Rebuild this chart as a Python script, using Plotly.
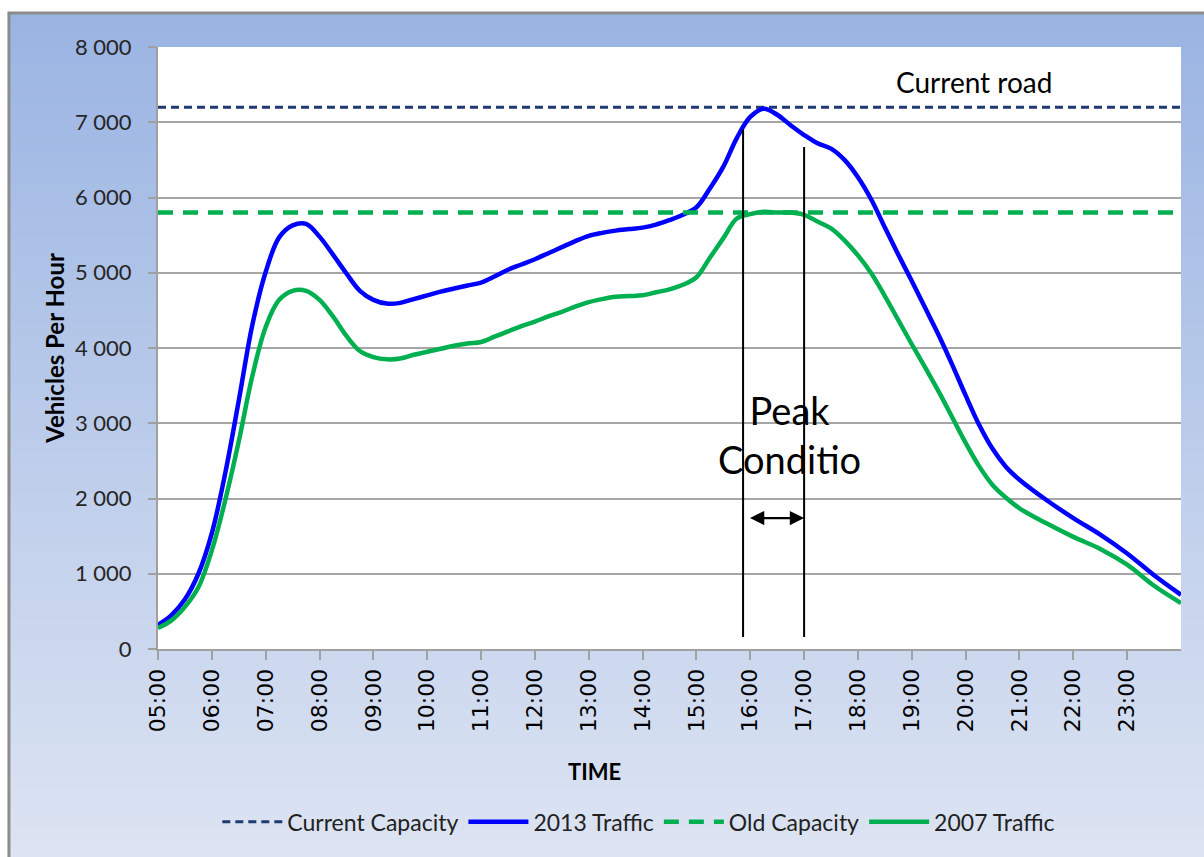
import base64
import struct
import zlib

import plotly.graph_objects as go

# ---------------- data ----------------
times = [f"{h:02d}:{m:02d}" for h in range(5, 21) for m in (0, 15, 30, 45)] + [
    "21:00", "21:30", "22:00", "22:30", "23:00", "23:30", "24:00"]

traffic_2013 = [
    320, 450, 660, 1000,
    1540, 2340, 3300, 4300,
    5010, 5470, 5630, 5650,
    5480, 5240, 4990, 4760,
    4640, 4590, 4600, 4650,
    4700, 4750, 4790, 4830,
    4870, 4950, 5040, 5110,
    5180, 5260, 5340, 5420,
    5490, 5530, 5560, 5580,
    5600, 5640, 5700, 5770,
    5870, 6120, 6410, 6790,
    7070, 7180, 7100, 6960,
    6830, 6720, 6650, 6500,
    6270, 5970, 5600, 5240,
    4890, 4530, 4170, 3780,
    3370, 2980, 2660, 2420,
    2250, 1980, 1740, 1520, 1270, 980, 720,
]

traffic_2007 = [
    280, 380, 560, 820,
    1310, 1980, 2760, 3620,
    4280, 4640, 4760, 4760,
    4640, 4420, 4160, 3960,
    3880, 3850, 3860, 3910,
    3950, 3990, 4030, 4060,
    4080, 4150, 4220, 4290,
    4350, 4420, 4480, 4550,
    4610, 4650, 4680, 4690,
    4700, 4740, 4780, 4840,
    4940, 5200, 5460, 5720,
    5780, 5810, 5800, 5800,
    5770, 5680, 5590, 5430,
    5230, 4990, 4690, 4370,
    4050, 3740, 3420, 3080,
    2740, 2430, 2180, 2010,
    1870, 1670, 1490, 1330, 1120, 840, 610,
]

current_capacity = 7200
old_capacity = 5800

tick_hours = list(range(5, 24))
tick_labels = [f"{h:02d}:00" for h in tick_hours]

# peak-condition markers: (time, top value)
peak_lines = [("15:52", 6900), ("17:00", 6670)]
peak_line_bottom = 160
peak_arrow = ("15:58", "17:00", 1740)


def to_hours(t):
    h, m = t.split(":")
    return int(h) + int(m) / 60.0


x = [to_hours(t) for t in times]

# ---------------- background gradient image ----------------
def gradient_png(top, bottom, n=128):
    rows = b""
    for i in range(n):
        f = i / (n - 1)
        c = bytes(int(round(top[k] + (bottom[k] - top[k]) * f)) for k in range(3))
        rows += b"\x00" + c
    def chunk(tag, data):
        return struct.pack(">I", len(data)) + tag + data + struct.pack(">I", zlib.crc32(tag + data) & 0xFFFFFFFF)
    png = b"\x89PNG\r\n\x1a\n"
    png += chunk(b"IHDR", struct.pack(">IIBBBBB", 1, n, 8, 2, 0, 0, 0))
    png += chunk(b"IDAT", zlib.compress(rows))
    png += chunk(b"IEND", b"")
    return "data:image/png;base64," + base64.b64encode(png).decode()


bg_src = gradient_png((154, 180, 226), (222, 229, 243))

# ---------------- figure ----------------
fig = go.Figure()

fig.add_trace(go.Scatter(
    x=[x[0], x[-1]], y=[current_capacity, current_capacity], mode="lines",
    name="Current Capacity",
    line=dict(color="#1F3A73", width=3, dash="8px,5px"),
))
fig.add_trace(go.Scatter(
    x=x, y=traffic_2013, mode="lines", name="2013 Traffic",
    line=dict(color="#0000FF", width=4.5, shape="spline", smoothing=1),
))
fig.add_trace(go.Scatter(
    x=[x[0], x[-1]], y=[old_capacity, old_capacity], mode="lines",
    name="Old Capacity",
    line=dict(color="#00B050", width=4.5, dash="15px,10px"),
))
fig.add_trace(go.Scatter(
    x=x, y=traffic_2007, mode="lines", name="2007 Traffic",
    line=dict(color="#00B050", width=4.5, shape="spline", smoothing=1),
))

shapes = [
    # white plot area over the gradient background
    dict(type="rect", xref="paper", yref="paper", x0=0, x1=1, y0=0, y1=1,
         line=dict(width=0), fillcolor="white", layer="below"),
]
for t, top in peak_lines:
    xv = to_hours(t)
    shapes.append(dict(type="line", xref="x", yref="y", x0=xv, x1=xv,
                       y0=peak_line_bottom, y1=top,
                       line=dict(color="black", width=2)))
# outer border
shapes.append(dict(type="rect", xref="paper", yref="paper",
                   x0=-0.1457, x1=1.04, y0=-0.37, y1=1.0565,
                   line=dict(color="#8C8C8C", width=3), fillcolor="rgba(0,0,0,0)",
                   layer="above"))

annotations = [
    dict(x=20.15, y=7540, xref="x", yref="y", text="Current road", showarrow=False,
         font=dict(family="Lato", size=28, color="black")),
    dict(x=16.72, y=2845, xref="x", yref="y", text="Peak<br>Conditio", showarrow=False,
         font=dict(family="Lato", size=38, color="black")),
    dict(x=to_hours(peak_arrow[1]), y=peak_arrow[2], ax=to_hours(peak_arrow[0]), ay=peak_arrow[2],
         xref="x", yref="y", axref="x", ayref="y", text="", showarrow=True,
         arrowhead=2, startarrowhead=2, arrowside="end+start", arrowsize=1.3,
         startarrowsize=1.3, arrowwidth=2.2, arrowcolor="black", standoff=0, startstandoff=0),
    # x-axis title (sits left of the plot centre in the original)
    dict(x=0.427, y=-0.204, xref="paper", yref="paper", text="<b>TIME</b>", showarrow=False,
         xanchor="center", yanchor="middle",
         font=dict(family="Lato", size=22, color="black")),
]

fig.update_layout(
    width=1204, height=857, autosize=False,
    margin=dict(l=158, r=23, t=47, b=208),
    paper_bgcolor="white",
    plot_bgcolor="white",
    separators=", ",
    font=dict(family="Lato", color="#222222"),
    shapes=shapes,
    annotations=annotations,
    images=[dict(source=bg_src, xref="paper", yref="paper",
                 x=-0.1457, y=1.0565, sizex=1.19, sizey=1.43,
                 xanchor="left", yanchor="top", sizing="stretch", layer="below")],
    showlegend=True,
    legend=dict(orientation="h", x=0.47, xanchor="center", y=-0.287, yanchor="middle",
                font=dict(family="Lato", size=23, color="#222222"),
                bgcolor="rgba(0,0,0,0)", itemwidth=60),
)

fig.update_xaxes(
    range=[5, 24], tickmode="array", tickvals=tick_hours, ticktext=tick_labels,
    tickangle=-90, tickfont=dict(family="DejaVu Sans", size=22, color="black"),
    ticks="outside", ticklen=9, tickcolor="#A0A0A0", tickwidth=2,
    showline=True, linecolor="#A0A0A0", linewidth=2,
    showgrid=False, zeroline=False,
)
fig.update_yaxes(
    range=[0, 8000], dtick=1000, tickformat=",d",
    tickfont=dict(family="Lato", size=22, color="#262626"),
    ticks="outside", ticklen=8, tickcolor="#A0A0A0", tickwidth=2,
    showline=True, linecolor="#A0A0A0", linewidth=2,
    showgrid=True, gridcolor="#A6A6A6", gridwidth=1.5, zeroline=False,
    ticklabelstandoff=12,
    title=dict(text="<b>Vehicles Per Hour</b>", font=dict(family="Lato", size=24, color="black"), standoff=4),
)

fig.write_html("out.html", post_script="document.body.style.margin='0';",
               config={"displayModeBar": False})
